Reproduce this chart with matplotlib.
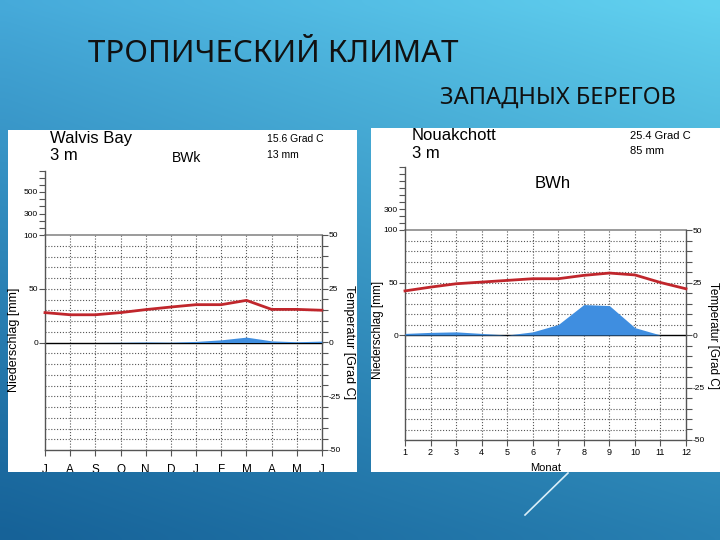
import matplotlib
matplotlib.use("Agg")
import matplotlib.pyplot as plt
import numpy as np
from matplotlib.patches import Rectangle

plt.rcParams['font.family'] = ['Liberation Sans', 'DejaVu Sans']
plt.rcParams['axes.unicode_minus'] = False

# Walvis Bay, Juli bis Juni
walvis_months = ['J', 'A', 'S', 'O', 'N', 'D', 'J', 'F', 'M', 'A', 'M', 'J']
walvis_temp = [13.9, 12.9, 12.9, 13.9, 15.3, 16.5, 17.6, 17.6, 19.6, 15.4, 15.4, 15.0]
walvis_prec = [0, 0, 0, 0.2, 0.5, 0.3, 1.0, 2.5, 5.0, 1.5, 0.7, 1.3]

# Nouakchott, Januar bis Dezember
nouak_months = ['1', '2', '3', '4', '5', '6', '7', '8', '9', '10', '11', '12']
nouak_temp = [21.0, 22.8, 24.4, 25.2, 26.0, 26.8, 26.8, 28.4, 29.5, 28.6, 25.0, 22.0]
nouak_prec = [1.5, 2.5, 3.0, 1.5, 0, 3.0, 10.0, 29.0, 28.0, 7.0, 0, 0]

temp_ticks = [-50, -25, 0, 25, 50]
prec_low_ticks = [0, 50, 100]


def prec_to_y(p):
    # 0-100 mm -> 0-50 (2 mm per degree), above 100 mm compressed
    p = np.asarray(p, dtype=float)
    return np.where(p <= 100, p / 2, 50 + (p - 100) / 20)


W, H = 720, 540
fig = plt.figure(figsize=(W / 100, H / 100), dpi=100)

# background slide
bg = fig.add_axes([0, 0, 1, 1])
bg.set_xlim(0, W)
bg.set_ylim(H, 0)
bg.axis('off')
tl = np.array([70, 170, 218]) / 255
tr = np.array([98, 210, 240]) / 255
bl = np.array([22, 98, 152]) / 255
br = np.array([40, 128, 178]) / 255
u = np.linspace(0, 1, 72)[None, :, None]
v = np.linspace(0, 1, 54)[:, None, None]
v = v ** 0.9
grad = (1 - v) * ((1 - u) * tl + u * tr) + v * ((1 - u) * bl + u * br)
bg.imshow(grad, extent=[0, W, H, 0], aspect='auto', interpolation='bicubic')

bg.text(88, 54, 'ТРОПИЧЕСКИЙ КЛИМАТ', fontsize=22.5, family=['Noto Sans', 'DejaVu Sans'],
        weight='light', color='#111111', va='center', ha='left')
bg.text(440, 98, 'ЗАПАДНЫХ БЕРЕГОВ', fontsize=17, family=['Noto Sans', 'DejaVu Sans'],
        weight='light', color='#111111', va='center', ha='left')

panel_left = Rectangle((8, 130), 349, 342, facecolor='white', edgecolor='none')
panel_right = Rectangle((371, 128), 349, 344, facecolor='white', edgecolor='none')
bg.add_patch(panel_left)
bg.add_patch(panel_right)
bg.plot([525, 568], [515, 473], color='#d8eef8', lw=1.2)

# station texts
bg.text(50, 138, 'Walvis Bay', fontsize=12, va='center')
bg.text(50, 156, '3 m', fontsize=12, va='center')
bg.text(172, 158, 'BWk', fontsize=10, va='center')
bg.text(267, 139.5, '15.6 Grad C', fontsize=7.5, va='center')
bg.text(267, 154.5, '13 mm', fontsize=7.5, va='center')

bg.text(412, 136, 'Nouakchott', fontsize=12, va='center')
bg.text(412, 153.5, '3 m', fontsize=12, va='center')
bg.text(535, 184, 'BWh', fontsize=12, va='center')
bg.text(630, 136, '25.4 Grad C', fontsize=8, va='center')
bg.text(630, 151, '85 mm', fontsize=8, va='center')


def draw_chart(px_left, px_right, px_bottom, px_top, months, temp, prec,
               high_prec, month_size, month_pad, prec_label_xy, temp_label_xy,
               label_size, panel, xlabel=None):
    rect = [px_left / W, 1 - px_bottom / H, (px_right - px_left) / W,
            (px_bottom - px_top) / H]
    ax = fig.add_axes(rect)
    ax.patch.set_alpha(0)
    ax.set_xlim(1, 12)
    ax.set_ylim(-50, 80)
    x = np.arange(1, 13)

    dot = (0, (1, 1.6))
    for xi in x[1:-1]:
        ax.plot([xi, xi], [-50, 50], color='#555555', lw=0.8, ls=dot)
    for yi in range(-45, 50, 5):
        if yi != 0:
            ax.plot([1, 12], [yi, yi], color='#555555', lw=0.8, ls=dot)
    ax.plot([1, 12], [50, 50], color='#8a8a8a', lw=1.2, clip_on=False)
    ax.plot([1, 12], [0, 0], color='black', lw=1.0, clip_on=False)

    ax.fill_between(x, 0, prec_to_y(prec), color='#3f8ee0', lw=0, zorder=3)
    ax.plot(x, temp, color='#c0262c', lw=2.0, zorder=4, clip_on=False)

    ax.spines['top'].set_visible(False)
    ax.spines['right'].set_visible(False)
    ax.spines['left'].set_bounds(-50, 80)
    for s in ['left', 'bottom']:
        ax.spines[s].set_color('#555555')
        ax.spines[s].set_linewidth(1.0)
    ax.plot([12, 12], [-50, 50], color='#555555', lw=1.0, clip_on=False)

    pticks = list(prec_low_ticks) + list(high_prec)
    ax.set_yticks(prec_to_y(pticks))
    ax.set_yticklabels([str(p) for p in pticks])
    minor = 50 + np.arange(0, 10) * 10 / 3
    ax.set_yticks(minor, minor=True)
    ax.tick_params(axis='y', which='both', direction='out', length=4, width=0.8,
                   color='#555555', labelsize=6, pad=1)
    ax.set_xticks(x)
    ax.set_xticklabels(months)
    ax.tick_params(axis='x', direction='out', length=4, width=0.8, color='#555555',
                   labelsize=month_size, pad=month_pad)
    for lbl in ax.get_xticklabels():
        lbl.set_clip_path(panel)

    ax2 = ax.twinx()
    ax2.set_ylim(-50, 80)
    for s in ['top', 'left', 'bottom', 'right']:
        ax2.spines[s].set_visible(False)
    ax2.set_yticks(temp_ticks)
    ax2.set_yticks(np.arange(-50, 55, 5), minor=True)
    ax2.tick_params(axis='y', which='both', direction='out', length=4, width=0.8,
                    color='#555555', labelsize=6, pad=1)

    fig.text(prec_label_xy[0] / W, 1 - prec_label_xy[1] / H, 'Niederschlag [mm]',
             rotation=90, fontsize=label_size, ha='center', va='center')
    fig.text(temp_label_xy[0] / W, 1 - temp_label_xy[1] / H, 'Temperatur [Grad C]',
             rotation=-90, fontsize=label_size, ha='center', va='center')
    if xlabel:
        ax.set_xlabel(xlabel, fontsize=8, labelpad=4)
        ax.xaxis.label.set_clip_path(panel)
    return ax


draw_chart(45, 322, 450, 170.5, walvis_months, walvis_temp, walvis_prec,
           [300, 500], 8.5, 6, (14, 340), (349, 342), 9, panel_left)
draw_chart(405, 686, 440, 167, nouak_months, nouak_temp, nouak_prec,
           [300], 6.5, 2, (378, 330), (713, 335), 8.5, panel_right, xlabel='Monat')

fig.savefig('out.png', dpi=100)
